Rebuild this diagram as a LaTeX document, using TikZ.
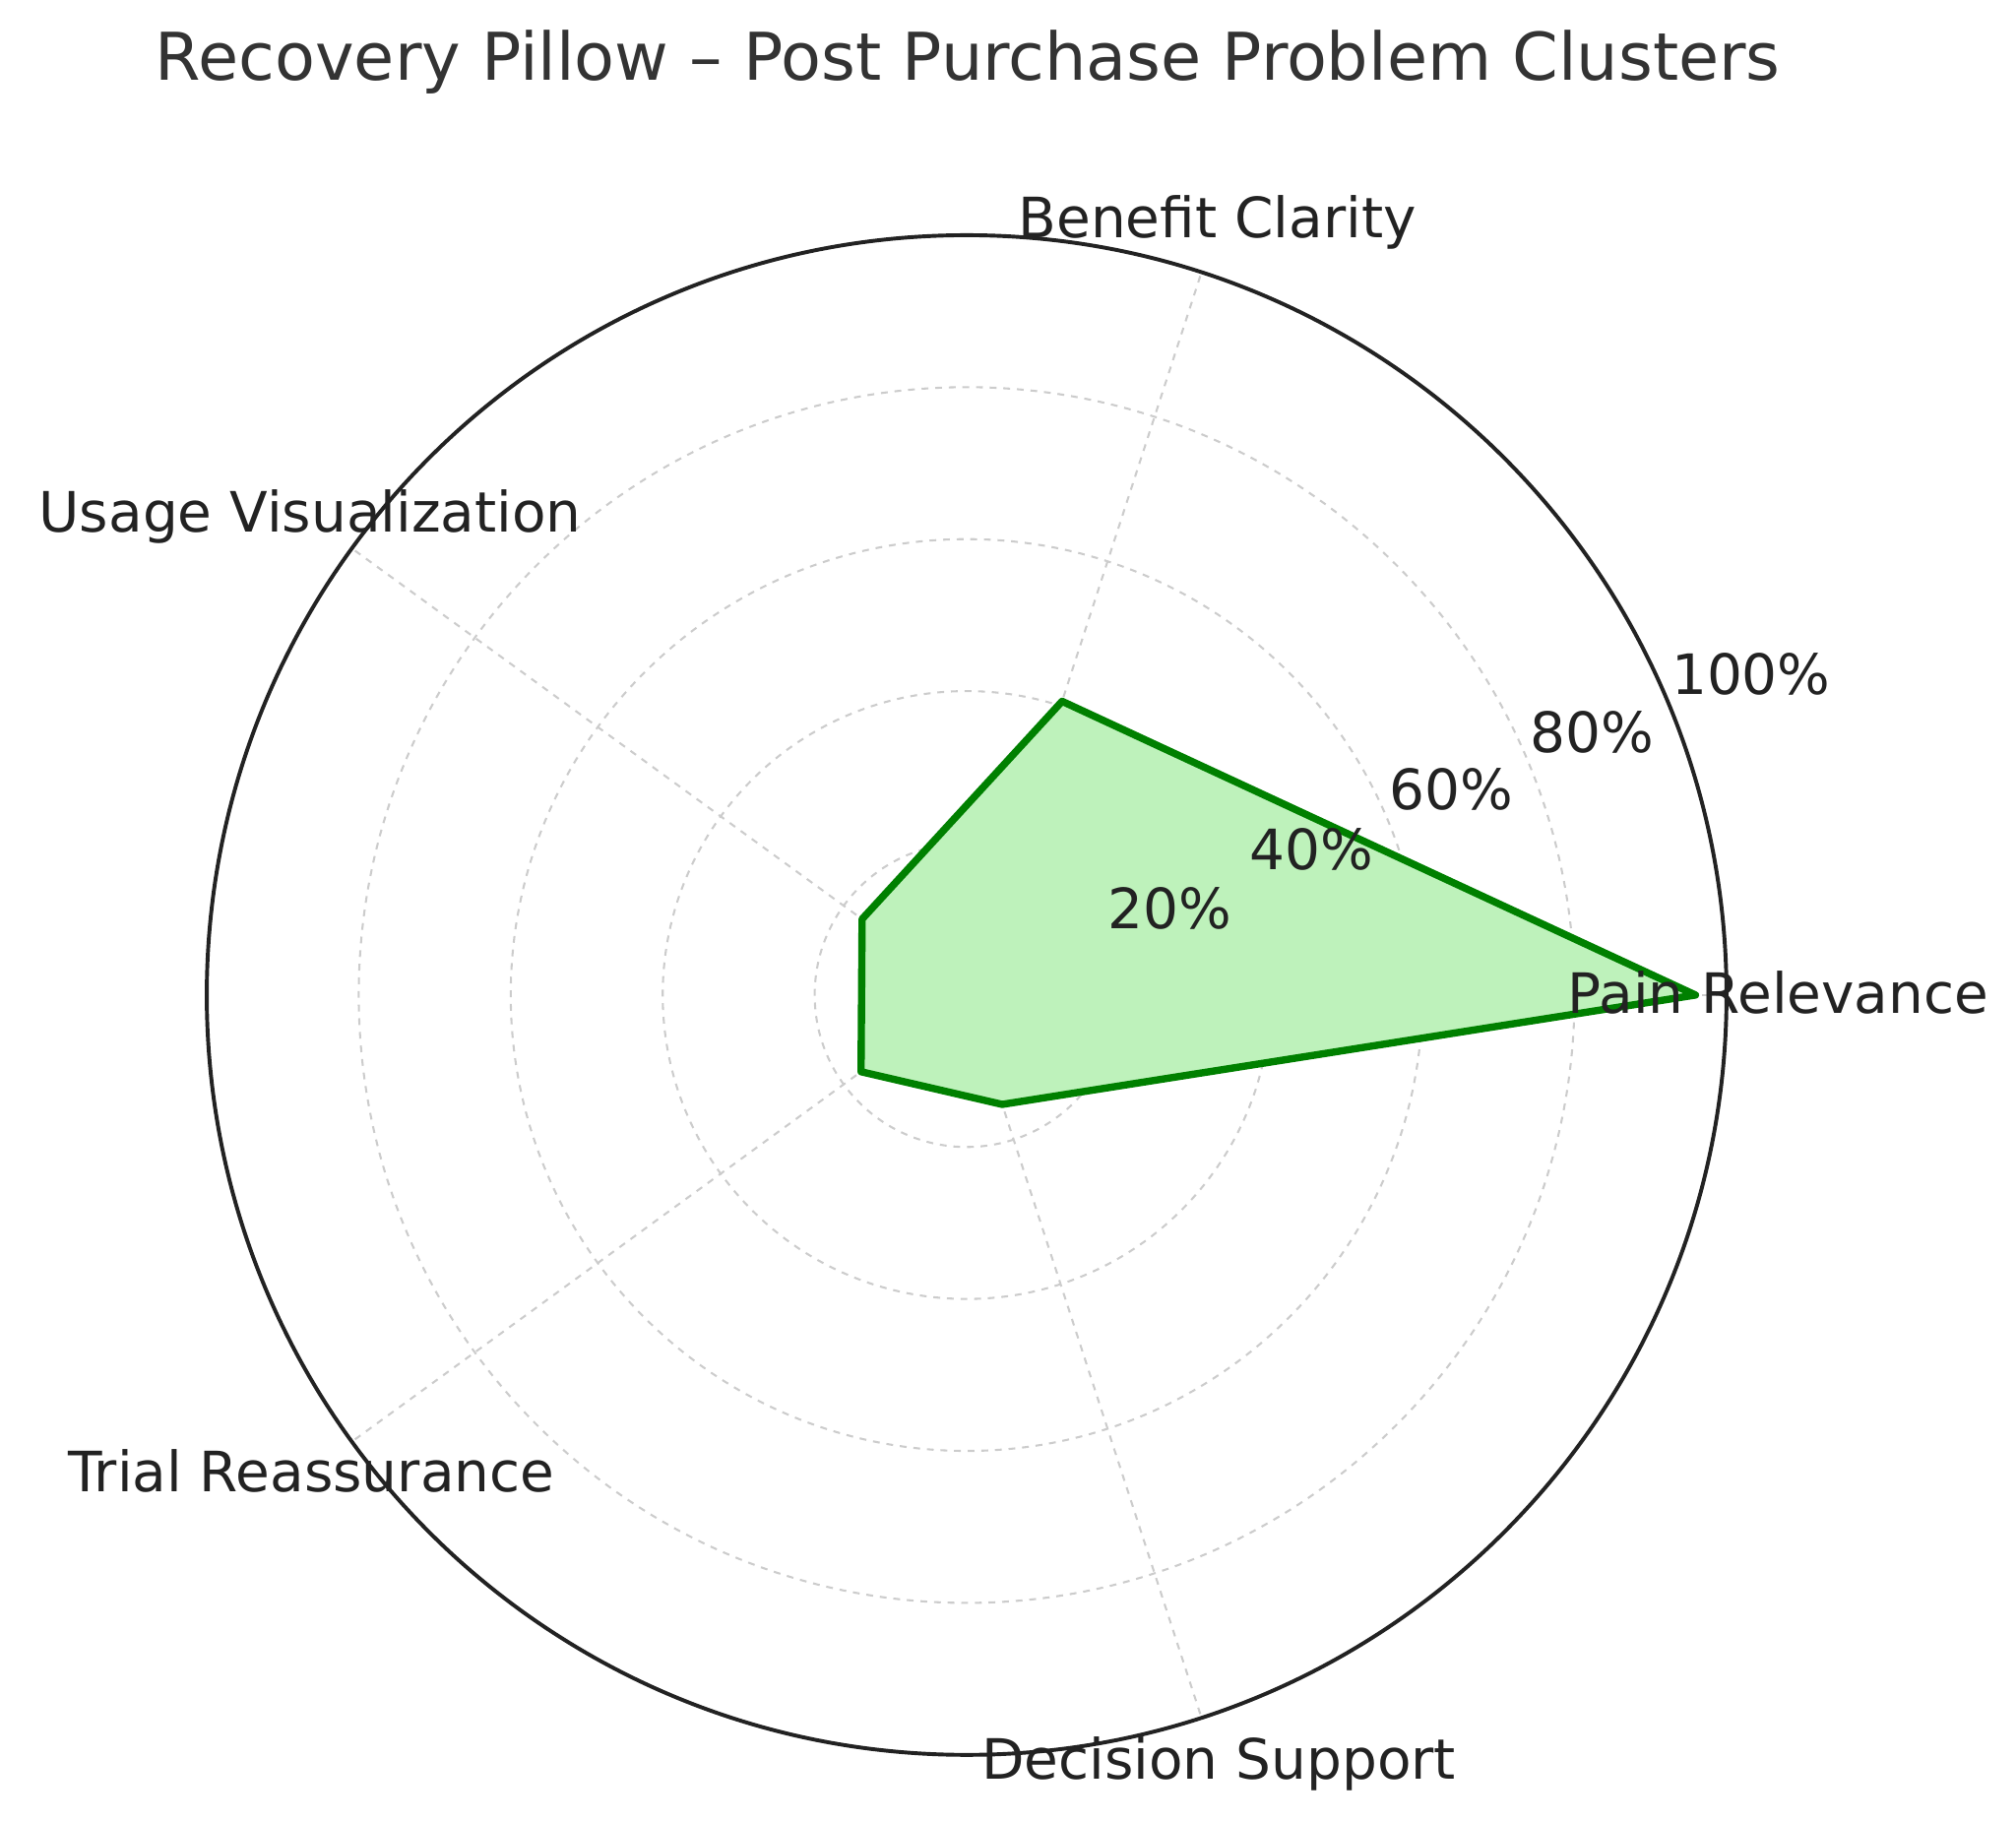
\documentclass[tikz,border=0pt]{standalone}
\usepackage{fontspec}
\setmainfont{DejaVu Sans}
\usepackage{tikz}
\usetikzlibrary{positioning, calc}
\definecolor{gridgray}{RGB}{204,204,204}
\definecolor{axisdark}{RGB}{34,34,34}
\definecolor{polyline}{RGB}{0,128,0}
\definecolor{polyfill}{RGB}{190,242,187}
\definecolor{titlegray}{RGB}{51,51,51}
\begin{document}
\begin{tikzpicture}[
    x=0.02cm, y=-0.02cm,
    grid/.style={draw=gridgray, dashed, line width=0.9pt},
    catlabel/.style={font=\fontsize{24.5}{28}\selectfont, text=axisdark},
    ticklabel/.style={font=\fontsize{24.5}{28}\selectfont, text=axisdark}
]
    \useasboundingbox (0,0) rectangle (1560,1409);
    \coordinate (c) at (748,770);
    % rings and spokes
    \foreach \r in {117.6,235.2,352.8,470.4}
        \draw[grid] (c) circle[radius=\r];
    \foreach \a in {0,72,144,216,288}
        \draw[grid] (c) -- ++({588*cos(\a)},{-588*sin(\a)});
    % data
    \coordinate (pain) at ($(c)+({564*cos(0)},{-564*sin(0)})$);
    \coordinate (benefit) at ($(c)+({239*cos(72)},{-239*sin(72)})$);
    \coordinate (usage) at ($(c)+({100*cos(144)},{-100*sin(144)})$);
    \coordinate (trial) at ($(c)+({101*cos(216)},{-101*sin(216)})$);
    \coordinate (decision) at ($(c)+({89*cos(288)},{-89*sin(288)})$);
    \draw[draw=polyline, fill=polyfill, line width=3.2pt, line join=round]
        (pain) -- (benefit) -- (usage) -- (trial) -- (decision) -- cycle;
    \draw[draw=axisdark, line width=1.7pt] (c) circle[radius=588];
    % tick labels
    \node[ticklabel] (t20) at (905,703) {20\%};
    \node[ticklabel] (t40) at (1015,657) {40\%};
    \node[ticklabel] (t60) at (1123,611) {60\%};
    \node[ticklabel] (t80) at (1232,567) {80\%};
    \node[ticklabel] (t100) at (1355,522) {100\%};
    % category labels
    \node[catlabel] (lpain) at (1376,768) {Pain Relevance};
    \node[catlabel] (lbenefit) at (942,172) {Benefit Clarity};
    \node[catlabel] (lusage) at (240,400) {Usage Visualization};
    \node[catlabel] (ltrial) at (241,1138) {Trial Reassurance};
    \node[catlabel] (ldecision) at (943,1365) {Decision Support};
    % title
    \node[font=\fontsize{29}{34}\selectfont, text=titlegray] (title) at (749,48)
        {Recovery Pillow – Post Purchase Problem Clusters};
\end{tikzpicture}
\end{document}
